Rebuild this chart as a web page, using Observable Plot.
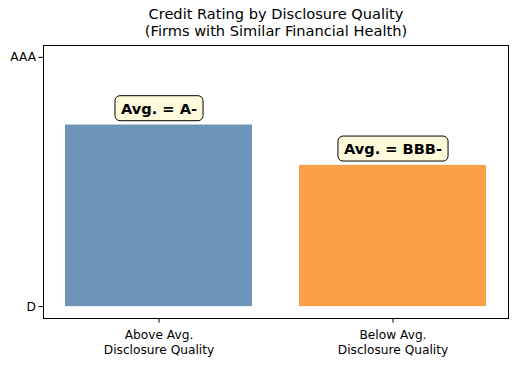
<!DOCTYPE html>
<html><head><meta charset="utf-8">
<script src="https://cdn.jsdelivr.net/npm/d3@7"></script>
<script src="https://cdn.jsdelivr.net/npm/@observablehq/plot@0.6"></script>
<style>
body{margin:0;background:#fff;}
svg{font-family:"DejaVu Sans",sans-serif;}
</style>
</head><body>
<div id="chart"></div>
<script>
const categories = ["Above Avg.\nDisclosure Quality", "Below Avg.\nDisclosure Quality"];
const scores = [16.3, 12.9];          // numeric rating score (D = 1, AAA = 22)
const ratingLabels = ["A-", "BBB-"];
const colors = ["#6f94ba", "#f89f47"];
const tickValues = [1, 22];
const tickLabels = ["D", "AAA"];
const baseline = 1;

const data = categories.map((c, i) => ({cat: c, score: scores[i], label: "Avg. = " + ratingLabels[i], color: colors[i]}));

const plot = Plot.plot({
  width: 517, height: 365,
  marginLeft: 43, marginRight: 9, marginTop: 45, marginBottom: 47,
  style: {fontFamily: "DejaVu Sans, sans-serif", fontSize: "12px", background: "#fff"},
  x: {domain: categories, paddingInner: 0.2, paddingOuter: 0.09, label: null},
  y: {domain: [0, 23], label: null},
  marks: [
    Plot.rectY(data, {x: "cat", y1: baseline, y2: "score", fill: "color"}),
    Plot.frame({stroke: "#000", strokeWidth: 1}),
    Plot.axisY({ticks: tickValues, tickFormat: d => tickLabels[tickValues.indexOf(d)], tickSize: 4.5, fontSize: 12.2, label: null, tickPadding: 3}),
    Plot.axisX({tickSize: 4.5, fontSize: 12.2, label: null, tickPadding: 6, lineHeight: 1.2}),
    Plot.text(data, {x: "cat", y: "score", text: "label", dy: -16, fontSize: 14.6, fontWeight: "bold", fill: "#000", className: "boxlabel"}),
    Plot.text(["Credit Rating by Disclosure Quality\n(Firms with Similar Financial Health)"], {frameAnchor: "top", dy: -38, fontSize: 14.6, lineHeight: 1.15, textAnchor: "middle", lineAnchor: "top", fill: "#000"})
  ]
});
document.getElementById("chart").appendChild(plot);

// rounded label boxes behind the bar annotations
plot.querySelectorAll("g.boxlabel text").forEach(t => {
  const b = t.getBBox();
  const r = document.createElementNS("http://www.w3.org/2000/svg", "rect");
  const padX = 6, padY = 4;
  r.setAttribute("x", b.x - padX);
  r.setAttribute("y", b.y - padY);
  r.setAttribute("width", b.width + 2 * padX);
  r.setAttribute("height", b.height + 2 * padY);
  r.setAttribute("rx", 5);
  r.setAttribute("fill", "#fdfbdc");
  r.setAttribute("stroke", "#000");
  r.setAttribute("stroke-width", 1);
  const tr = t.getAttribute("transform");
  if (tr) r.setAttribute("transform", tr);
  t.parentNode.insertBefore(r, t);
});
</script>
</body></html>
